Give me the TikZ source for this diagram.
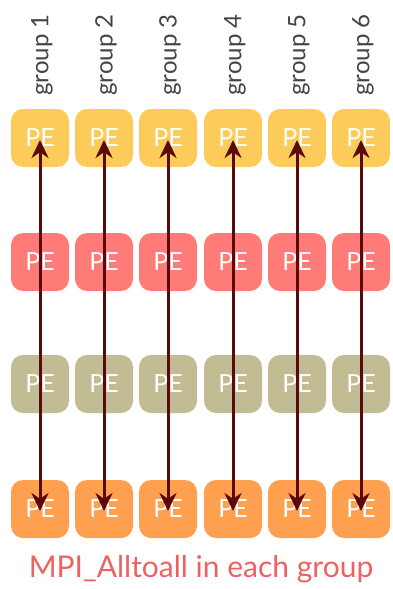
\documentclass[tikz,border=0pt]{standalone}
\usepackage{fontspec}
\setmainfont{Lato}
\usetikzlibrary{arrows.meta}
\definecolor{peyellow}{HTML}{FDCB5A}
\definecolor{pered}{HTML}{FF7B78}
\definecolor{peolive}{HTML}{C2BC94}
\definecolor{peorange}{HTML}{FFA050}
\definecolor{arrowc}{HTML}{5A0A0A}
\definecolor{labelc}{HTML}{F06060}
\definecolor{groupc}{HTML}{444444}
\begin{document}
\begin{tikzpicture}[x=1pt,y=-1pt,
  pebox/.style={rounded corners=12pt, minimum width=58pt, minimum height=58pt, inner sep=0pt, text=white, font=\fontsize{25}{28}\selectfont},
  grouplabel/.style={rotate=90, text=groupc, font=\fontsize{24}{26}\selectfont, inner sep=0pt},
  a2a/.style={draw=arrowc, line width=3pt, {Stealth[length=18pt,width=17pt]}-{Stealth[length=18pt,width=17pt]}}]
\useasboundingbox (0,0) rectangle (392,589);
\foreach \i/\x in {1/40,2/104,3/168,4/233,5/297,6/361}{
  \node[grouplabel] (g\i) at (\x+2,55) {group \i};
  \node[pebox, fill=peyellow] (a\i) at (\x,138) {PE};
  \node[pebox, fill=pered] (b\i) at (\x,262) {PE};
  \node[pebox, fill=peolive] (c\i) at (\x,384) {PE};
  \node[pebox, fill=peorange] (d\i) at (\x,509) {PE};
}
\foreach \i in {1,...,6}{
  \draw[a2a] ([yshift=-2pt]a\i.center) -- ([yshift=-2pt]d\i.center);
}
\node[text=labelc, font=\fontsize{30}{34}\selectfont, inner sep=0pt] (lbl) at (201,569) {MPI\_Alltoall in each group};
\end{tikzpicture}
\end{document}
